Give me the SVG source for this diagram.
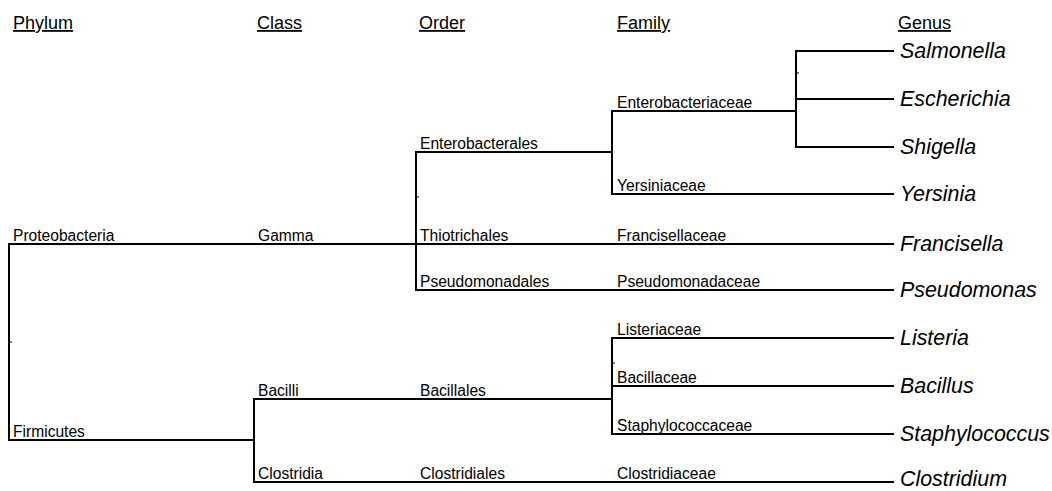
<svg xmlns="http://www.w3.org/2000/svg" width="1052" height="491" viewBox="0 0 1052 491">
<style>
  .hdr { font-family: "Liberation Sans", Arial, sans-serif; font-size: 18px; fill: #000; text-decoration: underline; }
  .lbl { font-family: "Liberation Sans", Arial, sans-serif; font-size: 15.6px; fill: #000; }
  .gen { font-family: "Liberation Sans", Arial, sans-serif; font-size: 21.4px; font-style: italic; fill: #000; }
  .edge { stroke: #000; stroke-width: 2; fill: none; stroke-linecap: square; }
  .tick { stroke: #000; stroke-width: 1; fill: none; }
</style>
<rect width="1052" height="491" fill="#fff"/>
<g id="headers">
  <text class="hdr" x="13" y="29">Phylum</text>
  <text class="hdr" x="257" y="29">Class</text>
  <text class="hdr" x="419" y="29">Order</text>
  <text class="hdr" x="617" y="29">Family</text>
  <text class="hdr" x="898" y="29">Genus</text>
</g>
<g id="connectors">
  <path class="edge" d="M9,244 V440"/>
  <path class="edge" d="M9,244 H416"/>
  <path class="edge" d="M9,440 H254"/>
  <path class="edge" d="M254,399 V482"/>
  <path class="edge" d="M254,399 H612"/>
  <path class="edge" d="M254,482 H893"/>
  <path class="edge" d="M416,152 V290"/>
  <path class="edge" d="M416,152 H612"/>
  <path class="edge" d="M416,244 H893"/>
  <path class="edge" d="M416,290 H893"/>
  <path class="edge" d="M612,111 V194"/>
  <path class="edge" d="M612,111 H796"/>
  <path class="edge" d="M612,194 H893"/>
  <path class="edge" d="M796,51 V147"/>
  <path class="edge" d="M796,51 H893"/>
  <path class="edge" d="M796,99 H893"/>
  <path class="edge" d="M796,147 H893"/>
  <path class="edge" d="M612,338 V434"/>
  <path class="edge" d="M612,338 H893"/>
  <path class="edge" d="M612,386 H893"/>
  <path class="edge" d="M612,434 H893"/>
  <path class="tick" d="M10,342 H12"/>
  <path class="tick" d="M417,197 H419"/>
  <path class="tick" d="M797,73 H799"/>
  <path class="tick" d="M613,363 H615"/>
</g>
<g id="phylum-proteobacteria"><text class="lbl" x="13" y="241">Proteobacteria</text></g>
<g id="phylum-firmicutes"><text class="lbl" x="13" y="437">Firmicutes</text></g>
<g id="class-gamma"><text class="lbl" x="258" y="241">Gamma</text></g>
<g id="class-bacilli"><text class="lbl" x="258" y="396">Bacilli</text></g>
<g id="class-clostridia"><text class="lbl" x="258" y="479">Clostridia</text></g>
<g id="order-enterobacterales"><text class="lbl" x="420" y="149">Enterobacterales</text></g>
<g id="order-thiotrichales"><text class="lbl" x="420" y="241">Thiotrichales</text></g>
<g id="order-pseudomonadales"><text class="lbl" x="420" y="287">Pseudomonadales</text></g>
<g id="order-bacillales"><text class="lbl" x="420" y="396">Bacillales</text></g>
<g id="order-clostridiales"><text class="lbl" x="420" y="479">Clostridiales</text></g>
<g id="family-enterobacteriaceae"><text class="lbl" x="617" y="108">Enterobacteriaceae</text></g>
<g id="family-yersiniaceae"><text class="lbl" x="617" y="191">Yersiniaceae</text></g>
<g id="family-francisellaceae"><text class="lbl" x="617" y="241">Francisellaceae</text></g>
<g id="family-pseudomonadaceae"><text class="lbl" x="617" y="287">Pseudomonadaceae</text></g>
<g id="family-listeriaceae"><text class="lbl" x="617" y="335">Listeriaceae</text></g>
<g id="family-bacillaceae"><text class="lbl" x="617" y="383">Bacillaceae</text></g>
<g id="family-staphylococcaceae"><text class="lbl" x="617" y="431">Staphylococcaceae</text></g>
<g id="family-clostridiaceae"><text class="lbl" x="617" y="479">Clostridiaceae</text></g>
<g id="genus-salmonella"><text class="gen" x="900" y="58">Salmonella</text></g>
<g id="genus-escherichia"><text class="gen" x="900" y="106">Escherichia</text></g>
<g id="genus-shigella"><text class="gen" x="900" y="154">Shigella</text></g>
<g id="genus-yersinia"><text class="gen" x="900" y="201">Yersinia</text></g>
<g id="genus-francisella"><text class="gen" x="900" y="251">Francisella</text></g>
<g id="genus-pseudomonas"><text class="gen" x="900" y="297">Pseudomonas</text></g>
<g id="genus-listeria"><text class="gen" x="900" y="345">Listeria</text></g>
<g id="genus-bacillus"><text class="gen" x="900" y="393">Bacillus</text></g>
<g id="genus-staphylococcus"><text class="gen" x="900" y="441">Staphylococcus</text></g>
<g id="genus-clostridium"><text class="gen" x="900" y="486">Clostridium</text></g>
</svg>
